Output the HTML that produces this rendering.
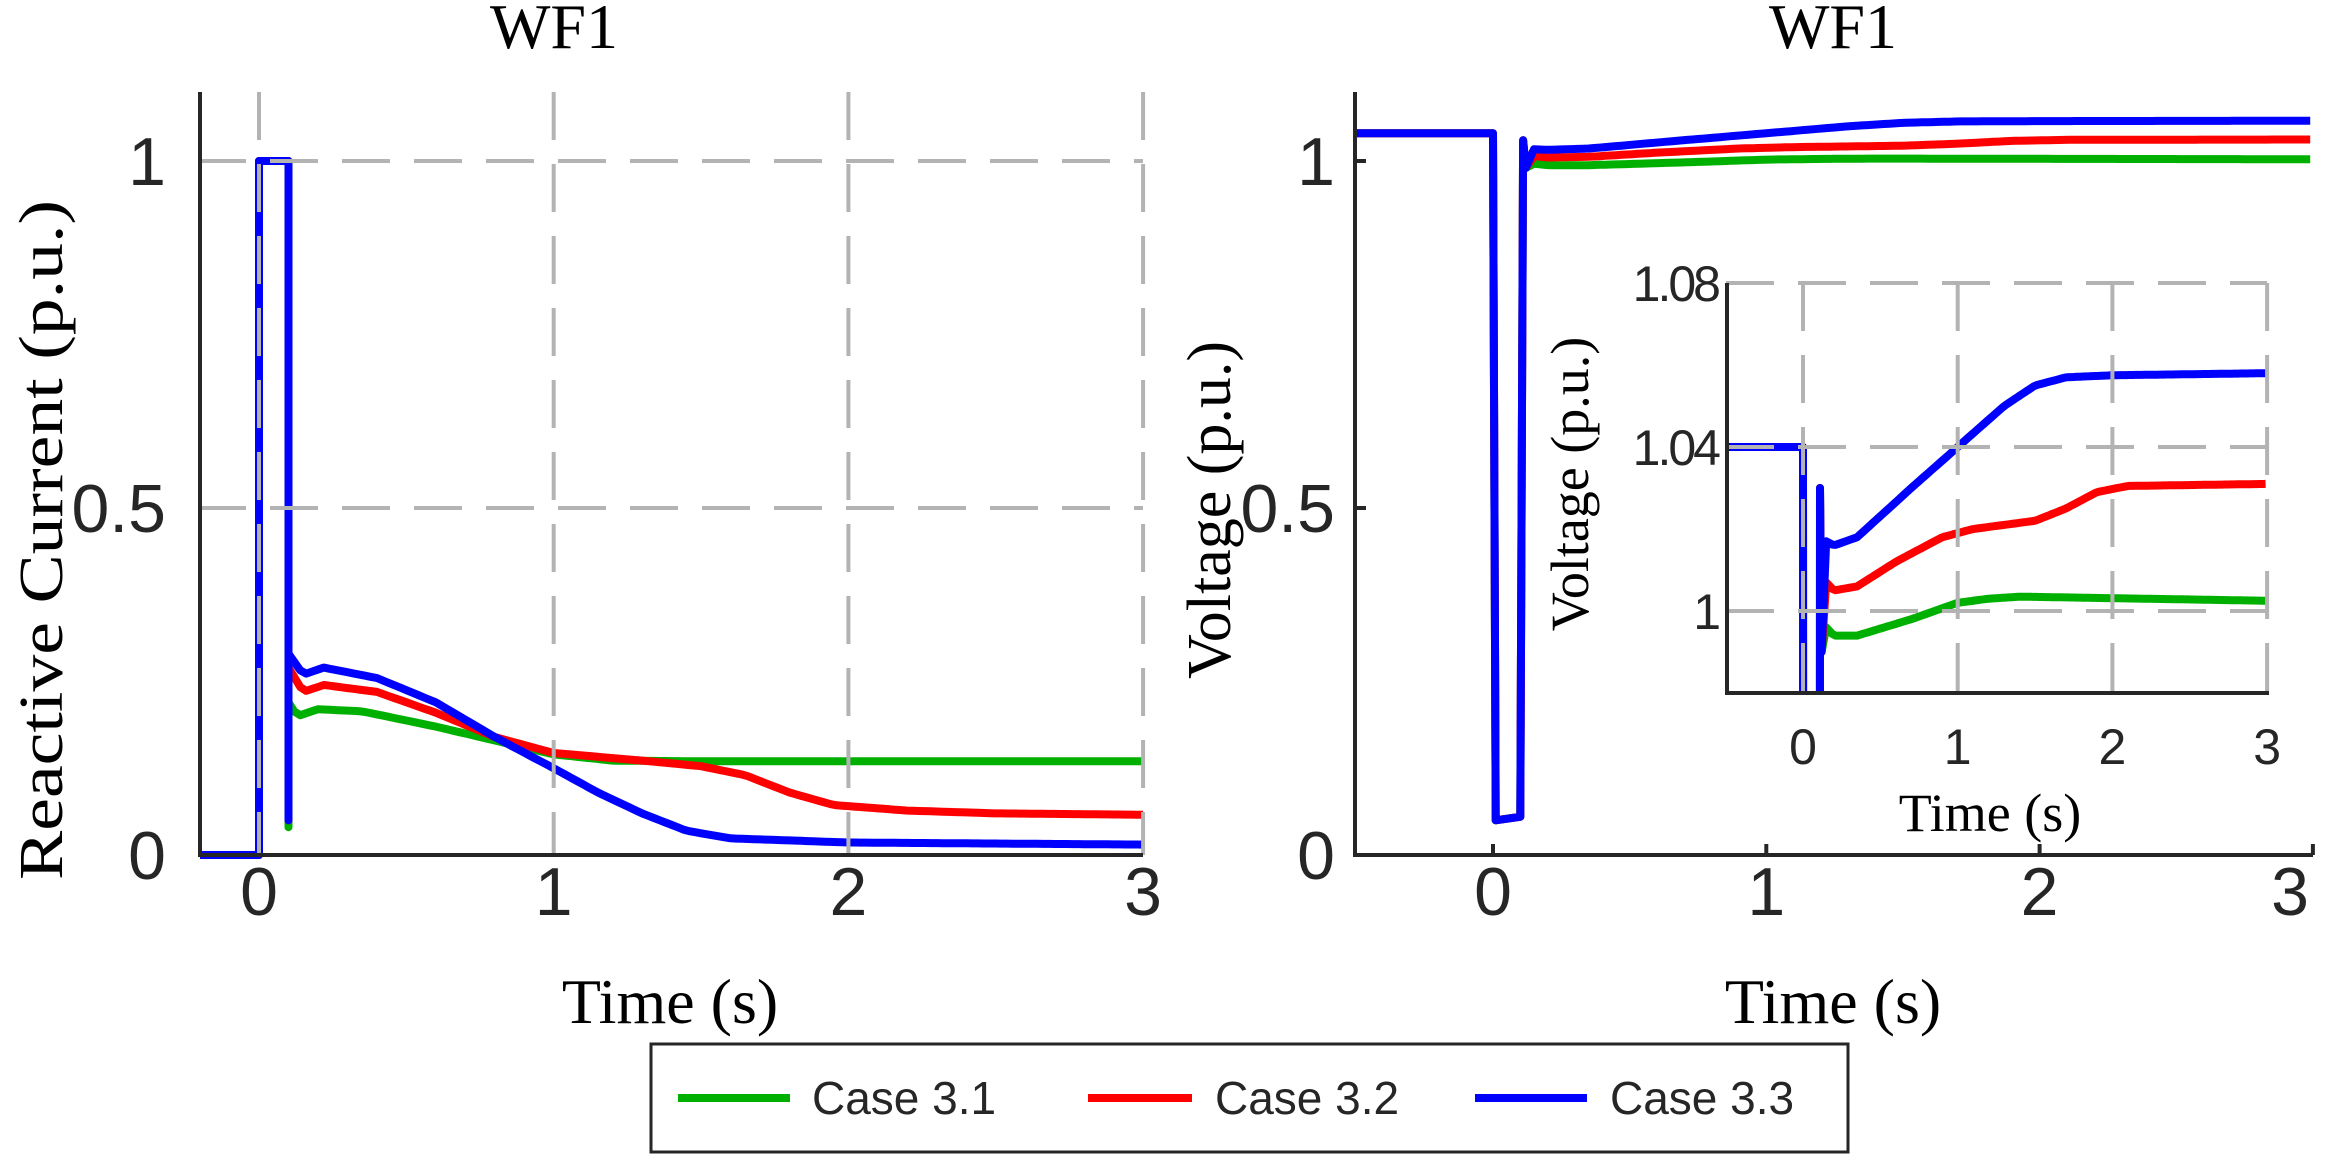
<!DOCTYPE html>
<html><head><meta charset="utf-8"><style>
html,body{margin:0;padding:0;background:#fff;overflow:hidden;width:2325px;height:1158px;}
svg{display:block;}
.tk{font-family:"Liberation Sans",sans-serif;fill:#262626;}
.sr{font-family:"Liberation Serif",serif;fill:#000;}
</style></head><body>
<svg id="s" width="2325" height="1158" viewBox="0 0 2325 1158" xmlns="http://www.w3.org/2000/svg">
<rect width="2325" height="1158" fill="#fff"/>
<g id="g"></g>
<text class="sr" x="554" y="48" font-size="64" text-anchor="middle">WF1</text>
<text class="sr" x="1833" y="48" font-size="64" text-anchor="middle">WF1</text>
<text class="sr" x="670" y="1023" font-size="64" text-anchor="middle">Time (s)</text>
<text class="sr" x="1833" y="1023" font-size="64" text-anchor="middle">Time (s)</text>
<text class="sr" transform="translate(62,540) rotate(-90)" font-size="62" text-anchor="middle" textLength="680" lengthAdjust="spacingAndGlyphs">Reactive Current (p.u.)</text>
<text class="sr" transform="translate(1230,510) rotate(-90)" font-size="62" text-anchor="middle">Voltage (p.u.)</text>
<text class="sr" transform="translate(1588,484) rotate(-90)" font-size="54" text-anchor="middle">Voltage (p.u.)</text>
<text class="sr" x="1990" y="831" font-size="54" text-anchor="middle">Time (s)</text>
<rect x="651" y="1044" width="1197" height="108" fill="#fff" stroke="#262626" stroke-width="3"/>
<line x1="678" y1="1098" x2="790" y2="1098" stroke="#00b000" stroke-width="8"/>
<text class="tk" x="812" y="1114" font-size="46" fill="#000">Case 3.1</text>
<line x1="1088" y1="1098" x2="1192" y2="1098" stroke="#ff0000" stroke-width="8"/>
<text class="tk" x="1215" y="1114" font-size="46" fill="#000">Case 3.2</text>
<line x1="1475" y1="1098" x2="1587" y2="1098" stroke="#0000ff" stroke-width="8"/>
<text class="tk" x="1610" y="1114" font-size="46" fill="#000">Case 3.3</text>
</svg>
<script>
var g=document.getElementById('g'),NS='http://www.w3.org/2000/svg';
function el(t,a,txt){var e=document.createElementNS(NS,t);for(var k in a)e.setAttribute(k,a[k]);if(txt!=null)e.textContent=txt;g.appendChild(e);return e;}
function interp(pts,t){for(var i=0;i<pts.length-1;i++){if(t<=pts[i+1][0]){var a=pts[i],b=pts[i+1];var u=(t-a[0])/(b[0]-a[0]);return a[1]+(b[1]-a[1])*u;}}return pts[pts.length-1][1];}
function series(head,tail){var p=head.slice();for(var t=tail[0][0];t<=3.0001;t+=0.02)p.push([t,interp(tail,t)]);return p;}
var headL=[[-0.2,0],[0,0],[0,1],[0.1,1],[0.1,0.05]];
var G=series(headL.concat([[0.1,0.04]]),[[0.1,0.22],[0.13,0.2],[0.2,0.21],[0.35,0.207],[0.6,0.185],[0.8,0.165],[1.0,0.145],[1.2,0.136],[1.5,0.135],[3,0.135]]);
var R=series(headL.concat([[0.1,0.06]]),[[0.1,0.27],[0.15,0.235],[0.22,0.245],[0.4,0.235],[0.6,0.205],[0.8,0.17],[1.0,0.147],[1.3,0.136],[1.5,0.128],[1.65,0.115],[1.8,0.09],[1.95,0.072],[2.2,0.064],[2.5,0.06],[3,0.058]]);
var B=series(headL.concat([[0.1,0.09]]),[[0.1,0.29],[0.15,0.26],[0.22,0.27],[0.4,0.255],[0.6,0.22],[0.8,0.17],[1.0,0.125],[1.15,0.09],[1.3,0.06],[1.45,0.035],[1.6,0.024],[2.0,0.018],[3,0.015]]);
var headV=[[-0.5,1.04],[0,1.04],[0.01,0.05],[0.1,0.055],[0.11,1.03],[0.12,0.99]];
var VG=series(headV,[[0.15,0.996],[0.2,0.994],[0.35,0.994],[0.7,0.998],[1.0,1.002],[1.2,1.003],[1.4,1.0035],[3,1.0025]]);
var VR=series(headV,[[0.15,1.007],[0.2,1.005],[0.35,1.006],[0.6,1.012],[0.9,1.018],[1.1,1.02],[1.5,1.022],[1.7,1.025],[1.9,1.029],[2.1,1.0305],[3,1.031]]);
var VB=series(headV,[[0.15,1.017],[0.2,1.016],[0.35,1.018],[0.7,1.03],[1.0,1.04],[1.3,1.05],[1.5,1.055],[1.7,1.057],[2.0,1.0575],[3,1.058]]);
function path(pts,X,Y,col,w,clip){var d='';pts.forEach(function(p,i){d+=(i?'L':'M')+X(p[0]).toFixed(1)+','+Y(p[1]).toFixed(1);});var a={d:d,fill:'none',stroke:col,'stroke-width':w,'stroke-linejoin':'round'};if(clip)a['clip-path']=clip;el('path',a);}
var defs=el('defs',{});
function clipR(id,x,y,w,h){var c=document.createElementNS(NS,'clipPath');c.setAttribute('id',id);var r=document.createElementNS(NS,'rect');r.setAttribute('x',x);r.setAttribute('y',y);r.setAttribute('width',w);r.setAttribute('height',h);c.appendChild(r);defs.appendChild(c);}
var grid={stroke:'#b3b3b3','stroke-width':4,'stroke-dasharray':'48,24'};
function gl(x1,y1,x2,y2){var a=Object.assign({x1:x1,y1:y1,x2:x2,y2:y2},grid);el('line',a);}
var XL=function(t){return 259+t*294.7;},YL=function(v){return 855-v*694;};
clipR('cl',198,88,950,772);
path(G,XL,YL,'#00b000',8,'url(#cl)');path(R,XL,YL,'#ff0000',8,'url(#cl)');path(B,XL,YL,'#0000ff',8,'url(#cl)');
[0,1,2,3].forEach(function(t){gl(XL(t),92,XL(t),855);});
[0.5,1].forEach(function(v){gl(198,YL(v),1143,YL(v));});
el('line',{x1:200,y1:92,x2:200,y2:856,stroke:'#262626','stroke-width':4});
el('line',{x1:198,y1:855,x2:1143,y2:855,stroke:'#262626','stroke-width':4});
[0,1,2,3].forEach(function(t){el('text',{class:'tk',x:XL(t),y:915,'font-size':68,'text-anchor':'middle'},''+t);});
[[0,'0'],[0.5,'0.5'],[1,'1']].forEach(function(v){el('text',{class:'tk',x:166,y:YL(v[0])+24,'font-size':68,'text-anchor':'end'},v[1]);});
var XR=function(t){return 1493+t*273.3;},YR=YL;
clipR('cr',1353,88,962,772);
path(VG,XR,YR,'#00b000',8,'url(#cr)');path(VR,XR,YR,'#ff0000',8,'url(#cr)');path(VB,XR,YR,'#0000ff',8,'url(#cr)');
el('line',{x1:1355,y1:92,x2:1355,y2:856,stroke:'#262626','stroke-width':4});
el('line',{x1:1353,y1:855,x2:2313,y2:855,stroke:'#262626','stroke-width':4});
[0,1,2,3].forEach(function(t){el('line',{x1:XR(t),y1:855,x2:XR(t),y2:844,stroke:'#262626','stroke-width':4});el('text',{class:'tk',x:Math.min(XR(t),2290),y:915,'font-size':68,'text-anchor':'middle'},''+t);});
[0.5,1].forEach(function(v){el('line',{x1:1355,y1:YR(v),x2:1366,y2:YR(v),stroke:'#262626','stroke-width':4});});
[[0,'0'],[0.5,'0.5'],[1,'1']].forEach(function(v){el('text',{class:'tk',x:1335,y:YR(v[0])+24,'font-size':68,'text-anchor':'end'},v[1]);});
el('rect',{x:1726,y:283,width:545,height:410,fill:'#fff'});
var XI=function(t){return 1803+t*154.7;},YI=function(v){return 611-(v-1)*4100;};
clipR('ci',1726,283,545,410);
path(VG,XI,YI,'#00b000',8,'url(#ci)');path(VR,XI,YI,'#ff0000',8,'url(#ci)');path(VB,XI,YI,'#0000ff',8,'url(#ci)');
[0,1,2,3].forEach(function(t){gl(XI(t),283,XI(t),693);});
[1,1.04,1.08].forEach(function(v){gl(1726,YI(v),2267,YI(v));});
el('line',{x1:1727,y1:283,x2:1727,y2:694,stroke:'#262626','stroke-width':4});
el('line',{x1:1725,y1:693,x2:2269,y2:693,stroke:'#262626','stroke-width':4});
[0,1,2,3].forEach(function(t){el('text',{class:'tk',x:XI(t),y:764,'font-size':50,'text-anchor':'middle'},''+t);});
[[1,'1'],[1.04,'1.04'],[1.08,'1.08']].forEach(function(v){el('text',{class:'tk',x:1718,y:YI(v[0])+18,'font-size':50,'text-anchor':'end','letter-spacing':'-3'},v[1]);});
</script>
</body></html>
